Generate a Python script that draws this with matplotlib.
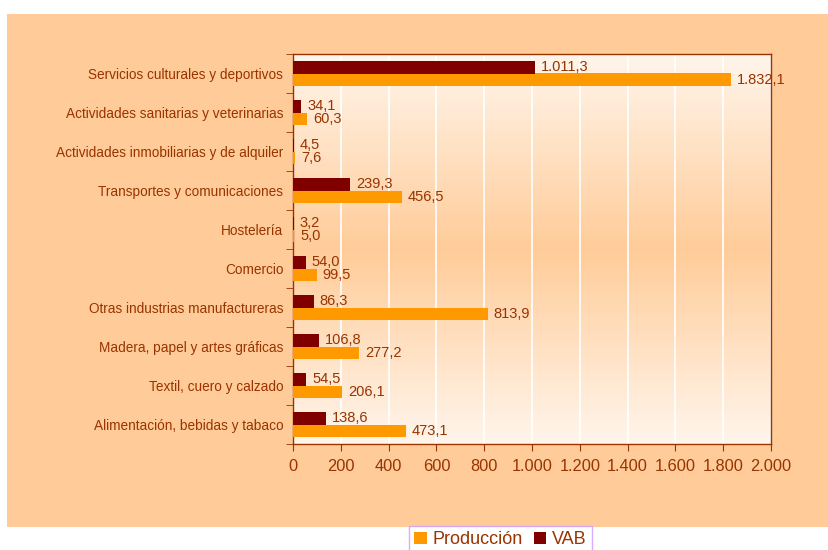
import numpy as np
import matplotlib.pyplot as plt
from matplotlib.patches import Rectangle
from matplotlib.colors import LinearSegmentedColormap

plt.rcParams['font.family'] = ['Liberation Sans', 'DejaVu Sans']

categorias = ["Alimentación, bebidas y tabaco", "Textil, cuero y calzado",
              "Madera, papel y artes gráficas", "Otras industrias manufactureras",
              "Comercio", "Hostelería", "Transportes y comunicaciones",
              "Actividades inmobiliarias y de alquiler",
              "Actividades sanitarias y veterinarias",
              "Servicios culturales y deportivos"]
produccion = [473.1, 206.1, 277.2, 813.9, 99.5, 5.0, 456.5, 7.6, 60.3, 1832.1]
vab = [138.6, 54.5, 106.8, 86.3, 54.0, 3.2, 239.3, 4.5, 34.1, 1011.3]
xticks = [0, 200, 400, 600, 800, 1000, 1200, 1400, 1600, 1800, 2000]

texto = '#993300'
naranja = '#FF9900'
granate = '#800000'
melocoton = '#FFCC99'


def fmt(v):
    s = f"{v:,.1f}"
    return s.replace(',', 'X').replace('.', ',').replace('X', '.')


fig = plt.figure(figsize=(8.29, 5.5), dpi=100)
fig.patches.append(Rectangle((7 / 829, 1 - 527 / 550), 822 / 829, 513 / 550,
                             transform=fig.transFigure, facecolor=melocoton,
                             edgecolor='none', zorder=-5))

ax = fig.add_axes([293 / 829, 1 - 444 / 550, 478 / 829, 390 / 550])
ax.set_zorder(2)

# fondo degradado vertical: blanco arriba y abajo, melocotón en el centro
cmap = LinearSegmentedColormap.from_list('deg', ['white', melocoton, 'white'])
grad = np.linspace(0, 1, 256).reshape(-1, 1)
ax.imshow(grad, cmap=cmap, aspect='auto', extent=[0, 1, 0, 1],
          transform=ax.transAxes, zorder=0, vmin=-0.12, vmax=1.12)

y = np.arange(len(categorias))
h = 0.31
ax.barh(y - h / 2, produccion, height=h, color=naranja, zorder=3, label='Producción')
ax.barh(y + h / 2, vab, height=h, color=granate, zorder=3, label='VAB')

for i in range(len(categorias)):
    ax.text(produccion[i] + 25, y[i] - h / 2 - 0.02, fmt(produccion[i]), color=texto,
            fontsize=10.5, va='center', ha='left', zorder=4)
    ax.text(vab[i] + 25, y[i] + h / 2 + 0.02, fmt(vab[i]), color=texto,
            fontsize=10.5, va='center', ha='left', zorder=4)

ax.set_xlim(0, 2000)
ax.set_ylim(-0.5, len(categorias) - 0.5)
ax.set_xticks(xticks)
ax.set_xticklabels([fmt(v)[:-2] for v in xticks], fontsize=11.8, color=texto)
ax.set_yticks(y)
ax.set_yticklabels(categorias, fontsize=9.8, color=texto)
ax.set_yticks(np.arange(-0.5, len(categorias), 1), minor=True)
ax.tick_params(axis='y', which='major', length=0, pad=7)
ax.tick_params(axis='y', which='minor', length=5, color=texto, direction='out')
ax.tick_params(axis='x', length=5, color=texto, direction='out', pad=6)
ax.grid(axis='x', color='white', linewidth=1.2, zorder=1)
ax.set_axisbelow(True)
for s in ax.spines.values():
    s.set_color(texto)
    s.set_linewidth(1)

handles, labels = ax.get_legend_handles_labels()
leg = fig.legend(handles, labels, loc='upper left',
                 bbox_to_anchor=(409 / 829, 1 - 526 / 550), ncol=2, fontsize=13,
                 frameon=True, fancybox=False, handlelength=0.7, handleheight=0.7,
                 handletextpad=0.3, columnspacing=0.6, borderpad=0.3,
                 borderaxespad=0, labelcolor=texto)
leg.get_frame().set_edgecolor('#CC99FF')
leg.get_frame().set_facecolor('white')
leg.get_frame().set_linewidth(1)
leg.set_zorder(5)

fig.savefig('out.png', dpi=100, facecolor='white')
